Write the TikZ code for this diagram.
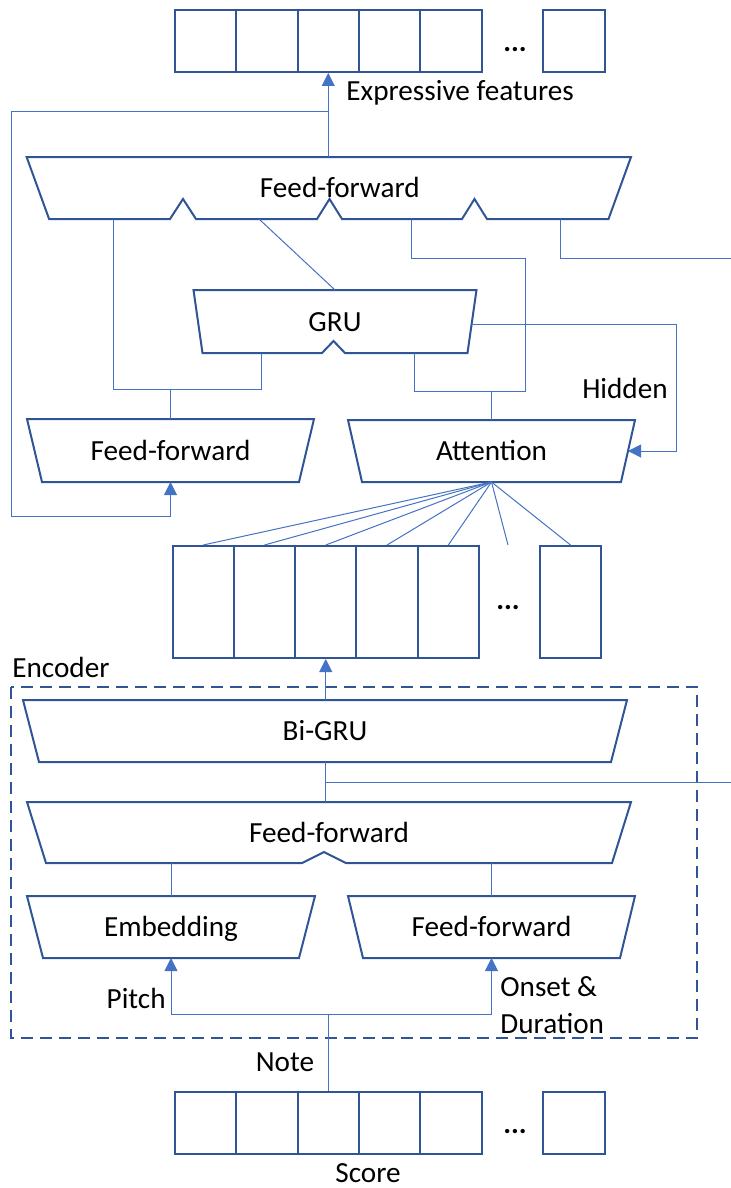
\documentclass[tikz,border=0pt]{standalone}
\usepackage{fontspec}
\setmainfont{Carlito}
\usetikzlibrary{arrows.meta}
\definecolor{boxblue}{HTML}{2F5597}
\definecolor{lineblue}{HTML}{4472C4}

\begin{document}
\begin{tikzpicture}[x=0.5pt,y=-0.5pt,
  unit/.style={draw=boxblue,line width=1pt},
  link/.style={draw=lineblue,line width=0.5pt},
  arr/.style={link,-{Triangle[length=6.5pt,width=6.5pt]}},
  cell/.style={draw=boxblue,line width=1pt,minimum width=30.65pt,inner sep=0pt},
  txt/.style={font=\fontsize{14.6}{18.5}\selectfont,inner sep=0pt},
  blk/.style={inner sep=0pt,outer sep=0pt}]

  \useasboundingbox (0,0) rectangle (731,1188);

  % trapezoid block: name, left, right, top, bottom, inset, text shift, notches, text
  \def\block#1#2#3#4#5#6#7#8#9{
    \draw[unit] (#2,#4) -- ({#2+#6},#5)
      foreach \n/\w/\h in {#8} { -- ({\n-\w},#5) -- (\n,{#5-\h}) -- ({\n+\w},#5) }
      -- ({#3-#6},#5) -- (#3,#4) -- cycle;
    \node[blk,minimum width={(#3-#2)*0.5pt},minimum height={(#5-#4)*0.5pt}] (#1) at ({(#2+#3)/2},{(#4+#5)/2}) {};
    \node[txt,anchor=base] (#1-t) at ([xshift=#7,yshift=-4.9pt]#1.center) {#9};
  }

  \block{ffTop}{26.6}{631}{157}{219}{22.5}{5.5pt}{183/13/20,329.5/12.5/20,474.5/12.5/20}{Feed-forward}
  \block{gru}{193.5}{476.5}{290}{353}{9}{0pt}{333.5/11.5/12}{GRU}
  \block{ffL}{27}{314}{419}{482}{15}{0pt}{}{Feed-forward}
  \block{att}{348}{635}{420}{482}{14}{0pt}{}{Attention}
  \block{bigru}{23}{627}{700}{762}{16}{0pt}{}{Bi-GRU}
  \block{encFF}{27}{631}{802}{863}{19}{0pt}{324/22/11}{Feed-forward}
  \block{emb}{27}{315}{896}{958}{16}{0pt}{}{Embedding}
  \block{ffR}{348}{635}{896}{958}{15}{0pt}{}{Feed-forward}

  % sequences
  \foreach \i in {1,...,5} {
    \node[cell,minimum height=31pt] (out\i) at ({175+61.3*(\i-0.5)},41) {};
    \node[cell,minimum height=56pt] (mid\i) at ({172.5+61.3*(\i-0.5)},602) {};
    \node[cell,minimum height=31pt] (in\i) at ({175+61.3*(\i-0.5)},1123) {};
  }
  \node[cell,minimum height=31pt] (outN) at (574,41) {};
  \node[cell,minimum height=56pt] (midN) at (570.5,602) {};
  \node[cell,minimum height=31pt] (inN) at (574,1123) {};
  \node[txt] (dots1) at (515,50) {\textbf{...}};
  \node[txt] (dots2) at (508,608) {\textbf{...}};
  \node[txt] (dots3) at (515,1132) {\textbf{...}};

  % encoder frame
  \draw[draw=boxblue,line width=1pt,dash pattern=on 6pt off 3.5pt] (11,687) rectangle (697,1038);
  \node[txt,anchor=west] (encLbl) at (12,667) {Encoder};

  % decoder connections
  \coordinate (fbTop) at (out3.south |- 0,112);
  \draw[arr] (out3.south |- ffTop.north) -- (out3.south);
  \draw[arr] (fbTop) -| (11,516) -| (ffL.south);
  \draw[link] (113,0 |- ffTop.south) |- (261,389) -- (261,0 |- gru.south);
  \draw[link] (ffL.north) -- (ffL.north |- 0,389);
  \draw[link] (259,0 |- ffTop.south) -- (gru.north);
  \draw[link] (411,0 |- ffTop.south) |- (525,258) -- (525,391) -| (414,0 |- gru.south);
  \draw[link] (att.north) -- (att.north |- 0,391);
  \coordinate (outR) at (731,258);
  \draw[link] (560,0 |- ffTop.south) |- (outR);
  \coordinate (gruOut) at (472,324);
  \draw[arr] (gruOut) -| (676,0 |- att.east) -- ([xshift=-3.5pt]att.east);

  % attention over encoder states
  \foreach \i in {1,...,5}
    \draw[link] (att.south) -- (mid\i.north);
  \draw[link] (att.south) -- (dots2 |- mid1.north);
  \draw[link] (att.south) -- (midN.north);

  % encoder connections
  \draw[arr] (mid3.south |- bigru.north) -- (mid3.south);
  \draw[link] (bigru.south) -- (bigru.south |- encFF.north);
  \coordinate (encR) at (731,782);
  \draw[link] (bigru.south |- encR) -- (encR);
  \draw[link] (emb.north) -- (emb.north |- encFF.south);
  \draw[link] (ffR.north) -- (ffR.north |- encFF.south);
  \coordinate (split) at (in3.north |- 0,1014);
  \draw[link] (in3.north) -- (split);
  \draw[arr] (split) -| (emb.south);
  \draw[arr] (split) -| (ffR.south);

  % labels
  \node[txt,anchor=west] (featLbl) at (346,93) {Expressive features};
  \node[txt] (hidLbl) at (625,388) {Hidden};
  \node[txt,anchor=east] (pitchLbl) at (166,998) {Pitch};
  \node[txt,anchor=west,align=left] (onsetLbl) at (500,1005.5) {Onset \&\\Duration};
  \node[txt] (noteLbl) at (285,1062) {Note};
  \node[txt] (scoreLbl) at (368,1173) {Score};

\end{tikzpicture}
\end{document}
